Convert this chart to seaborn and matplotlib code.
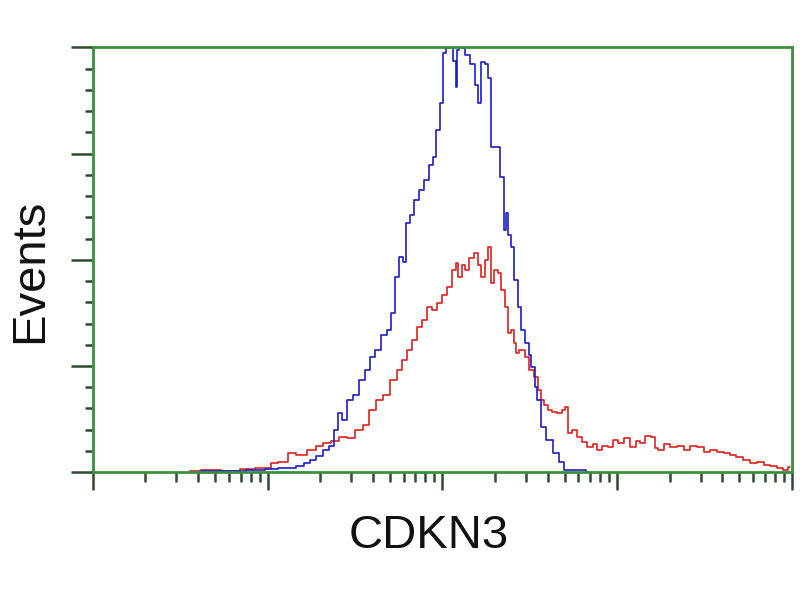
import numpy as np
import matplotlib
matplotlib.use("Agg")
import matplotlib.pyplot as plt
import seaborn as sns
from matplotlib.ticker import LogLocator, MultipleLocator, NullFormatter

# Flow cytometry histogram, CDKN3 (log10 fluorescence vs. % of max events)
blue_log = [0.612, 0.784, 0.956, 1.013, 1.099, 1.144, 1.185, 1.230, 1.259, 1.299,
            1.339, 1.368, 1.396, 1.413, 1.436, 1.471, 1.505, 1.545, 1.574, 1.597,
            1.631, 1.671, 1.700, 1.717, 1.740, 1.768, 1.785, 1.803, 1.825, 1.854,
            1.883, 1.911, 1.940, 1.957, 1.974, 1.997, 2.014, 2.031, 2.054, 2.072,
            2.083, 2.089, 2.106, 2.117, 2.146, 2.175, 2.197, 2.215, 2.232, 2.255,
            2.272, 2.283, 2.312, 2.341, 2.358, 2.369, 2.386, 2.398, 2.426, 2.443,
            2.461, 2.484, 2.501, 2.518, 2.541, 2.547, 2.575, 2.615, 2.655, 2.684,
            2.712, 2.758, 2.804, 2.833]
blue_events = [0.2, 0.2, 0.5, 0.7, 0.9, 0.9, 1.4, 2.1, 2.8, 3.8,
               5.2, 6.1, 9.9, 13.9, 12.2, 16.9, 18.1, 21.6, 24.0, 27.1,
               28.7, 32.2, 33.4, 37.4, 45.9, 50.6, 49.4, 58.6, 60.5, 64.0,
               66.4, 68.7, 72.2, 74.1, 80.5, 86.8, 98.6, 99.8, 100.0, 96.9,
               90.6, 99.3, 100.0, 99.8, 98.1, 96.2, 91.1, 86.8, 96.5, 96.2,
               92.9, 76.5, 76.5, 69.4, 56.9, 60.9, 55.8, 52.9, 45.2, 38.8,
               33.4, 30.4, 27.5, 24.7, 20.0, 16.9, 10.6, 7.5, 4.5, 2.4,
               0.5, 0.5, 0.5, 0.0]

red_log = [0.555, 0.670, 0.784, 0.898, 0.956, 1.013, 1.030, 1.087, 1.144, 1.185,
           1.259, 1.299, 1.339, 1.385, 1.431, 1.471, 1.528, 1.562, 1.597, 1.642,
           1.677, 1.717, 1.757, 1.785, 1.814, 1.843, 1.871, 1.900, 1.928, 1.957,
           1.986, 2.014, 2.043, 2.072, 2.083, 2.100, 2.123, 2.140, 2.169, 2.197,
           2.215, 2.232, 2.255, 2.272, 2.283, 2.306, 2.329, 2.346, 2.369, 2.386,
           2.403, 2.415, 2.426, 2.455, 2.484, 2.512, 2.541, 2.558, 2.575, 2.592,
           2.615, 2.644, 2.672, 2.695, 2.712, 2.730, 2.758, 2.787, 2.815, 2.844,
           2.873, 2.901, 2.930, 2.959, 2.987, 3.016, 3.056, 3.090, 3.119, 3.147,
           3.176, 3.205, 3.227, 3.245, 3.285, 3.319, 3.359, 3.399, 3.433, 3.474,
           3.514, 3.548, 3.588, 3.628, 3.662, 3.702, 3.742, 3.777, 3.817, 3.857,
           3.891, 3.931, 3.960, 3.989]
red_events = [0.2, 0.5, 0.2, 0.7, 0.9, 0.9, 2.1, 2.4, 4.5, 4.0,
              5.2, 6.1, 6.8, 7.3, 8.2, 8.0, 9.9, 11.1, 14.6, 16.9,
              18.1, 21.6, 24.0, 26.4, 28.7, 31.1, 34.1, 35.8, 38.8, 38.1,
              39.8, 41.6, 43.5, 47.5, 49.2, 45.9, 48.7, 47.5, 50.4, 51.5,
              48.7, 45.9, 49.9, 52.9, 44.5, 47.5, 46.8, 42.8, 38.8, 32.7,
              33.4, 30.4, 28.0, 28.7, 27.1, 24.0, 22.4, 19.3, 16.9, 15.8,
              14.6, 14.1, 13.9, 14.6, 15.3, 9.2, 9.9, 8.2, 7.1, 5.9,
              6.6, 5.2, 6.1, 5.9, 7.5, 6.8, 8.0, 5.9, 7.3, 6.8,
              8.5, 8.2, 5.6, 5.2, 6.6, 5.9, 6.1, 5.2, 6.1, 5.9,
              4.7, 5.2, 4.7, 4.5, 4.0, 3.5, 2.8, 2.1, 2.4, 1.6,
              1.4, 0.9, 0.5, 1.2]

sns.set_style("white")
plt.rcParams['font.family'] = ['Liberation Sans', 'DejaVu Sans']

fig = plt.figure(figsize=(8, 6), dpi=100)
ax = fig.add_axes([0.116, 0.213, 0.874, 0.708])

sns.lineplot(x=10 ** np.array(red_log), y=red_events, color="#e0201c",
             linewidth=1.2, drawstyle="steps-mid", estimator=None, sort=False, ax=ax)
sns.lineplot(x=10 ** np.array(blue_log), y=blue_events, color="#1c1cc8",
             linewidth=1.2, drawstyle="steps-mid", estimator=None, sort=False, ax=ax)

ax.set_xscale("log")
ax.set_xlim(1, 1e4)
ax.set_ylim(0, 100)

ax.xaxis.set_major_locator(LogLocator(base=10))
ax.xaxis.set_minor_locator(LogLocator(base=10, subs=np.arange(2, 10)))
ax.xaxis.set_major_formatter(NullFormatter())
ax.xaxis.set_minor_formatter(NullFormatter())
ax.yaxis.set_major_locator(MultipleLocator(25))
ax.yaxis.set_minor_locator(MultipleLocator(5))
ax.yaxis.set_major_formatter(NullFormatter())

tick_col = "#2f4a2f"
ax.tick_params(axis="y", which="major", direction="out", length=16, width=1.8, color=tick_col, left=True)
ax.tick_params(axis="y", which="minor", direction="out", length=6, width=1.8, color=tick_col, left=True)
ax.tick_params(axis="x", which="major", direction="out", length=13, width=1.8, color=tick_col, bottom=True)
ax.tick_params(axis="x", which="minor", direction="out", length=7, width=1.8, color=tick_col, bottom=True)

for s in ax.spines.values():
    s.set_visible(True)
    s.set_color("#3a8f3a")
    s.set_linewidth(2)

ax.set_xlabel("CDKN3", fontsize=34, color="#111111")
ax.set_ylabel("Events", fontsize=34, color="#111111")
ax.xaxis.label.set_va("center")
ax.yaxis.label.set_va("center")
ax.xaxis.set_label_coords(0.48, -0.15)
ax.yaxis.set_label_coords(-0.09, 0.475)

fig.savefig("out.png", dpi=100)
